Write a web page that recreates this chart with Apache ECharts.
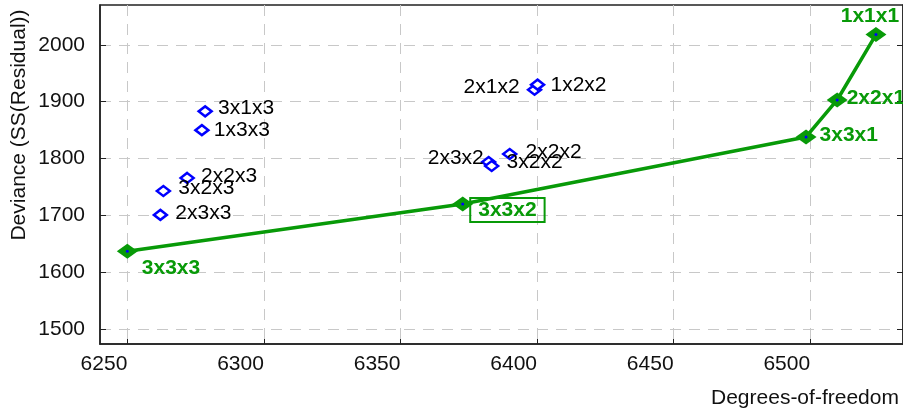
<!DOCTYPE html>
<html>
<head>
<meta charset="utf-8">
<script src="https://cdn.jsdelivr.net/npm/echarts@6/dist/echarts.min.js"></script>
<style>
html, body { margin: 0; padding: 0; background: #fff; }
#chart { width: 903px; height: 419px; }
</style>
</head>
<body>
<div id="chart"></div>
<script>
// all fitted models (blue open diamonds)
var model_names = ['3x1x3', '1x3x3', '2x2x3', '3x2x3', '2x3x3', '2x1x2', '1x2x2', '2x3x2', '3x2x2', '2x2x2'];
var model_df = [6278.5, 6277.3, 6271.9, 6263.2, 6262.1, 6399.1, 6400.2, 6382.3, 6383.4, 6390.0];
var model_dev = [1883, 1850, 1766, 1743, 1701, 1921, 1930, 1794, 1787, 1808];
// best models path (green line)
var path_names = ['3x3x3', '3x3x2', '3x3x1', '2x2x1', '1x1x1'];
var path_df = [6250, 6372.8, 6498.5, 6509.9, 6524.1];
var path_dev = [1637, 1720, 1838, 1903, 2018];
// ticks
var x_ticks = [6250, 6300, 6350, 6400, 6450, 6500];
var y_ticks = [1500, 1600, 1700, 1800, 1900, 2000];

// where each label sits relative to its point
var label_place = {
	'3x1x3': ['right', [0, -3]],
	'1x3x3': ['right', [-1, 0]],
	'2x2x3': ['right', [1, -2]],
	'3x2x3': ['right', [2, -3]],
	'2x3x3': ['right', [2, -2]],
	'2x1x2': ['left', [-2, -3]],
	'1x2x2': ['right', [0, 1]],
	'2x3x2': ['left', [8, -4]],
	'3x2x2': ['right', [2, -4]],
	'2x2x2': ['right', [3, -2]],
	'3x3x3': ['right', [-1, 17]],
	'3x3x2': ['right', [-8, 6]],
	'3x3x1': ['right', [-2, -2]],
	'2x2x1': ['right', [-6, -2]],
	'1x1x1': ['top', [-6, 5]]
};

var font = 'Liberation Sans, Arial, sans-serif';
var green = '#089a08';

function build_points(names, xs, ys) {
	var out = [];
	for (var i = 0; i < names.length; i++) {
		var p = label_place[names[i]];
		out.push({ name: names[i], value: [xs[i], ys[i]], label: { position: p[0], offset: p[1] } });
	}
	return out;
}

var model_data = build_points(model_names, model_df, model_dev);
var path_data = build_points(path_names, path_df, path_dev);
// boxed label for the selected model
path_data[1].label.borderColor = green;
path_data[1].label.borderWidth = 2;
path_data[1].label.padding = [2, 8, 1, 8];

function plain(v) { return String(v); }

var chart = echarts.init(document.getElementById('chart'));
var option = {
	animation: false,
	grid: {
		left: 100, top: 5, width: 805, height: 339,
		show: true, borderColor: '#222', borderWidth: 1.5
	},
	xAxis: {
		type: 'value', min: 6240, max: 6534,
		axisLine: { show: true, onZero: false, lineStyle: { color: '#222', width: 1.5 } },
		axisTick: { inside: true, length: 5, customValues: x_ticks, lineStyle: { color: '#222' } },
		axisLabel: { customValues: x_ticks, formatter: plain, align: 'right', margin: 10, fontSize: 21, color: '#111', fontFamily: font },
		splitLine: { show: true, lineStyle: { color: '#c8c8c8', type: [11, 8], width: 1 } }
	},
	yAxis: [{
		type: 'value', min: 1474, max: 2070,
		axisLine: { show: true, onZero: false, lineStyle: { color: '#222', width: 1.5 } },
		axisTick: { inside: true, length: 6, customValues: y_ticks, lineStyle: { color: '#222' } },
		axisLabel: { customValues: y_ticks, formatter: plain, margin: 15, fontSize: 21, color: '#111', fontFamily: font },
		splitLine: { show: true, lineStyle: { color: '#c8c8c8', type: [11, 8], width: 1 } }
	}, {
		type: 'value', min: 1474, max: 2070, position: 'right',
		axisLine: { show: true, onZero: false, lineStyle: { color: '#222', width: 1.5 } },
		axisTick: { inside: true, length: 6, customValues: y_ticks, lineStyle: { color: '#222' } },
		axisLabel: { show: false },
		splitLine: { show: false }
	}],
	graphic: [{
		type: 'text', x: 19, y: 125, rotation: Math.PI / 2,
		style: { text: 'Deviance (SS(Residual))', fontSize: 21, fontFamily: font, fill: '#111', textAlign: 'center', textVerticalAlign: 'middle' }
	}, {
		type: 'text', x: 711, y: 398,
		style: { text: 'Degrees-of-freedom', fontSize: 21, fontFamily: font, fill: '#111', textAlign: 'left', textVerticalAlign: 'middle' }
	}],
	series: [{
		name: 'models',
		type: 'scatter',
		symbol: 'diamond',
		symbolSize: [13, 10],
		itemStyle: { color: '#fff', borderColor: '#0000ff', borderWidth: 2.5, opacity: 1 },
		label: { show: true, formatter: '{b}', fontSize: 21, color: '#000', fontFamily: font, distance: 5 },
		data: model_data,
		z: 3
	}, {
		name: 'path',
		type: 'line',
		symbol: 'diamond',
		symbolSize: [21, 15],
		showAllSymbol: true,
		lineStyle: { color: green, width: 3.5 },
		itemStyle: { color: green, opacity: 1 },
		label: { show: true, formatter: '{b}', fontSize: 21, fontWeight: 'bold', color: green, fontFamily: font, distance: 5 },
		data: path_data,
		z: 4
	}, {
		name: 'path centers',
		type: 'scatter',
		symbol: 'circle',
		symbolSize: 3,
		silent: true,
		itemStyle: { color: '#0000ff', opacity: 1 },
		data: path_df.map(function (d, i) { return [d, path_dev[i]]; }),
		z: 5
	}]
};
chart.setOption(option, true);
</script>
</body>
</html>
